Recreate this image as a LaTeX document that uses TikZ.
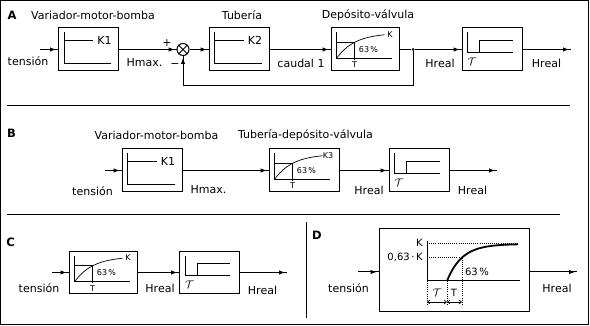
\documentclass[tikz,border=0pt]{standalone}
\usepackage{fontspec}
\setmainfont{DejaVu Sans}
\usetikzlibrary{arrows.meta,decorations.markings,calc}
\tikzset{
  lbl/.style={font=\fontsize{11}{13}\selectfont, inner sep=0pt},
  sml/.style={font=\fontsize{8}{9}\selectfont, inner sep=0pt},
  midf/.style={font=\fontsize{10}{12}\selectfont, inner sep=0pt},
  ttl/.style={font=\fontsize{11.5}{13}\selectfont\bfseries, inner sep=0pt},
  ln/.style={line width=1pt},
  blk/.style={draw, ln, inner sep=0pt, minimum width=60pt, minimum height=43pt},
  wide/.style={blk, minimum width=68pt},
  flow/.style={ln, postaction={decorate}, decoration={markings, mark=at position -2pt with {\arrow{Latex[length=6pt,width=4.5pt]}}}},
  dotl/.style={line width=0.7pt, dash pattern=on 0.8pt off 1.3pt},
  gainpic/.pic={
    \draw[ln] (6,5) -- (6,36) -- (53,36);
    \draw[ln] (6,13) -- (35,13);
    \node[lbl] (-k) at (46.5,13) {#1};
  },
  fopic/.pic={
    \draw[ln] (6,5) -- (6,31) -- (61,31);
    \draw[ln] (6,15) -- (24,15) -- (24,32.5);
    \draw[line width=0.7pt] plot[domain=0:48, samples=40] ({6+\x},{31-25.5*(1-exp(-\x/18))});
    \node[sml] (-k) at (59.5,7) {#1};
    \node[sml] (-p) at (38,22) {63\,\%};
    \node[sml] (-t) at (24,37.5) {T};
  },
  taupic/.pic={
    \draw[ln] (6,5) -- (6,25) -- (51,25);
    \draw[ln] (18,25) -- (18,13) -- (51,13);
    \node[lbl] (-t) at (10.5,34) {$\mathcal{T}$};
  },
}
\begin{document}
\begin{tikzpicture}[x=1pt, y=-1pt]
\useasboundingbox (0,0) rectangle (590,326);
\draw[ln] (0.5,0.5) rectangle (588.5,324.5);

% ---------------- Panel A
\node[ttl] (la) at (12,15) {A};
\node[lbl] (ta1) at (93,15) {Variador-motor-bomba};
\node[lbl] (ta2) at (242,15) {Tubería};
\node[lbl] (ta3) at (368,15) {Depósito-válvula};
\coordinate (ina) at (40,49.5);
\node[blk] (a1) at (88.5,49.5) {};
\node[draw, circle, ln, inner sep=0pt, minimum size=12pt] (sum) at (183,49.5) {};
\node[blk] (a2) at (239,49.5) {};
\node[wide] (a3) at (365,49.5) {};
\node[blk] (a4) at (492,49.5) {};
\coordinate (outa) at (571,49.5);
\node[circle, fill, inner sep=0pt, minimum size=3pt] (dot) at (413,49.5) {};
\coordinate (fb1) at (413,86);
\coordinate (fb2) at (183,86);
\draw[ln] (sum.north west) -- (sum.south east) (sum.north east) -- (sum.south west);
\pic (pa1) at (a1.north west) {gainpic=K1};
\pic (pa2) at (a2.north west) {gainpic=K2};
\pic (pa3) at (a3.north west) {fopic=K};
\pic (pa4) at (a4.north west) {taupic};
\draw[flow] (ina) -- (a1);
\draw[flow] (a1) -- (sum);
\draw[flow] (sum) -- (a2);
\draw[flow] (a2) -- (a3);
\draw[ln] (a3) -- (dot);
\draw[flow] (dot) -- (a4);
\draw[flow] (a4) -- (outa);
\draw[flow] (dot) -- (fb1) -- (fb2) -- (sum);
\node[lbl] (tensa) at (28,61) {tensión};
\node[lbl] (hmaxa) at (144.5,63) {Hmax.};
\node[lbl] (plus) at (167,43) {+};
\node[lbl] (minus) at (175,66) {−};
\node[lbl] (caudal) at (301,63) {caudal 1};
\node[lbl] (hra1) at (440,63) {Hreal};
\node[lbl] (hra2) at (546.5,63) {Hreal};
\draw[ln] (7,106) -- (570,106);

% ---------------- Panel B
\node[ttl] (lb) at (11.5,133) {B};
\node[lbl] (tb1) at (156.5,135) {Variador-motor-bomba};
\node[lbl] (tb2) at (305.5,135) {Tubería-depósito-válvula};
\coordinate (inb) at (105,170.5);
\node[blk] (b1) at (152,170.5) {};
\node[wide, minimum width=70pt] (b2) at (304,170.5) {};
\node[blk] (b3) at (419,170.5) {};
\coordinate (outb) at (497,170.5);
\pic (pb1) at (b1.north west) {gainpic=K1};
\pic (pb2) at (b2.north west) {fopic=K3};
\pic (pb3) at (b3.north west) {taupic};
\draw[flow] (inb) -- (b1);
\draw[flow] (b1) -- (b2);
\draw[flow] (b2) -- (b3);
\draw[flow] (b3) -- (outb);
\node[lbl] (tensb) at (92.5,191) {tensión};
\node[lbl] (hmaxb) at (208.5,190) {Hmax.};
\node[lbl] (hrb1) at (369,190) {Hreal};
\node[lbl] (hrb2) at (472.5,190) {Hreal};
\draw[ln] (7,215) -- (560,215);

% ---------------- Panel C
\node[ttl] (lc) at (10.5,242) {C};
\coordinate (inc) at (52,272.5);
\node[wide, minimum height=42pt] (c1) at (103,272.5) {};
\node[blk, minimum height=42pt] (c2) at (209.5,272.5) {};
\coordinate (outc) at (287,272.5);
\pic (pc1) at (c1.north west) {fopic=K};
\pic (pc2) at (c2.north west) {taupic};
\draw[flow] (inc) -- (c1);
\draw[flow] (c1) -- (c2);
\draw[flow] (c2) -- (outc);
\node[lbl] (tensc) at (39,288) {tensión};
\node[lbl] (hrc1) at (160,288) {Hreal};
\node[lbl] (hrc2) at (262.5,290) {Hreal};
\draw[ln] (306,222) -- (306,318);

% ---------------- Panel D
\node[ttl] (ld) at (317,235) {D};
\node[draw, ln, inner sep=0pt, minimum width=150pt, minimum height=83pt] (d) at (454,270.5) {};
\coordinate (ind) at (358,272);
\coordinate (outd) at (577,272);
\draw[flow] (ind) -- (ind -| d.west);
\draw[flow] (d.east |- outd) -- (outd);
\node[lbl] (tensd) at (348.5,288) {tensión};
\node[lbl] (hrd) at (557,288) {Hreal};
% graph
\draw[ln] (427,241) -- (427,281) -- (520,281);
\draw[dotl] (427,243) -- (519,243);
\draw[dotl] (427,257) -- (462,257) -- (462,306);
\draw[dotl] (427,281) -- (427,306);
\draw[dotl] (447,281) -- (447,306);
\draw[line width=1.8pt] plot[domain=0:71, samples=50] ({447+\x},{281-37*(1-exp(-\x/15))});
\draw[line width=0.6pt, {Straight Barb[length=2.5pt,width=4pt]}-{Straight Barb[length=2.5pt,width=4pt]}] (427,302) -- (447,302);
\draw[line width=0.6pt, {Straight Barb[length=2.5pt,width=4pt]}-{Straight Barb[length=2.5pt,width=4pt]}] (447,302) -- (462,302);
\node[midf, anchor=east] (dk) at (423,243) {K};
\node[midf, anchor=east] (dk63) at (423,257) {0,63\,·\,K};
\node[midf] (d63) at (477,272) {63\,\%};
\node[lbl] (dtau) at (437,293) {$\mathcal{T}$};
\node[midf] (dt) at (454,293) {T};
\end{tikzpicture}
\end{document}
